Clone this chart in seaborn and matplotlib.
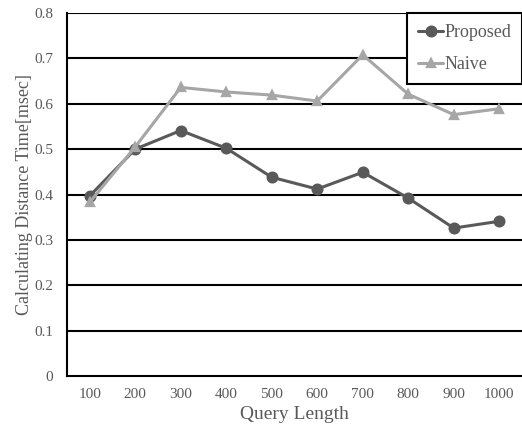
import pandas as pd
import matplotlib
matplotlib.use('Agg')
import matplotlib.pyplot as plt
import seaborn as sns

lengths = ['100', '200', '300', '400', '500', '600', '700', '800', '900', '1000']
proposed = [0.397, 0.500, 0.541, 0.502, 0.438, 0.412, 0.449, 0.392, 0.326, 0.341]
naive = [0.383, 0.505, 0.636, 0.626, 0.619, 0.606, 0.708, 0.621, 0.576, 0.589]

df = pd.DataFrame({
    'Query Length': lengths * 2,
    'time': proposed + naive,
    'method': ['Proposed'] * len(lengths) + ['Naive'] * len(lengths),
})

sns.set_style('white')
plt.rcParams['font.family'] = ['Liberation Serif', 'DejaVu Serif']
text_color = '#595959'

fig = plt.figure(figsize=(5.22, 4.30), dpi=100)
ax = fig.add_axes([67 / 522, 54 / 430, 1 - 67 / 522, 363 / 430])

# horizontal grid lines, drawn under the series
for v in [0.1, 0.2, 0.3, 0.4, 0.5, 0.6, 0.7, 0.8]:
    ax.axhline(v, color='black', lw=1.5, zorder=0)

sns.pointplot(data=df, x='Query Length', y='time', hue='method',
              palette={'Proposed': '#595959', 'Naive': '#a6a6a6'},
              markers=['o', '^'], linestyles=['-', '-'],
              markersize=7, linewidth=2.2, ax=ax, zorder=3)

# triangles are a bit smaller than the circles
for line in ax.lines:
    if line.get_marker() == '^':
        line.set_markersize(5.5)

ax.set_ylim(0, 0.8)
ax.set_xlim(-0.5, 9.5)
ax.set_yticks([0, 0.1, 0.2, 0.3, 0.4, 0.5, 0.6, 0.7, 0.8])
ax.set_yticklabels(['0', '0.1', '0.2', '0.3', '0.4', '0.5', '0.6', '0.7', '0.8'])
ax.tick_params(axis='both', length=0, labelsize=11, colors=text_color)
ax.tick_params(axis='x', pad=9)
ax.tick_params(axis='y', pad=10)
ax.set_xlabel('Query Length', fontsize=14, color=text_color, labelpad=3)
ax.set_ylabel('Calculating Distance Time[msec]', fontsize=13, color=text_color, labelpad=1)

for side in ['left', 'bottom']:
    ax.spines[side].set_color('black')
    ax.spines[side].set_linewidth(1.5)
ax.spines['top'].set_visible(False)
ax.spines['right'].set_visible(False)

leg = ax.legend(loc='upper right', bbox_to_anchor=(1.0, 1.0), fontsize=13,
                frameon=True, fancybox=False, edgecolor='black', framealpha=1,
                handlelength=1.4, handletextpad=0.05, borderaxespad=0,
                borderpad=0.6, labelspacing=0.85)
leg.get_frame().set_linewidth(1.5)
for t in leg.get_texts():
    t.set_color(text_color)

fig.savefig('out.png', dpi=100)
